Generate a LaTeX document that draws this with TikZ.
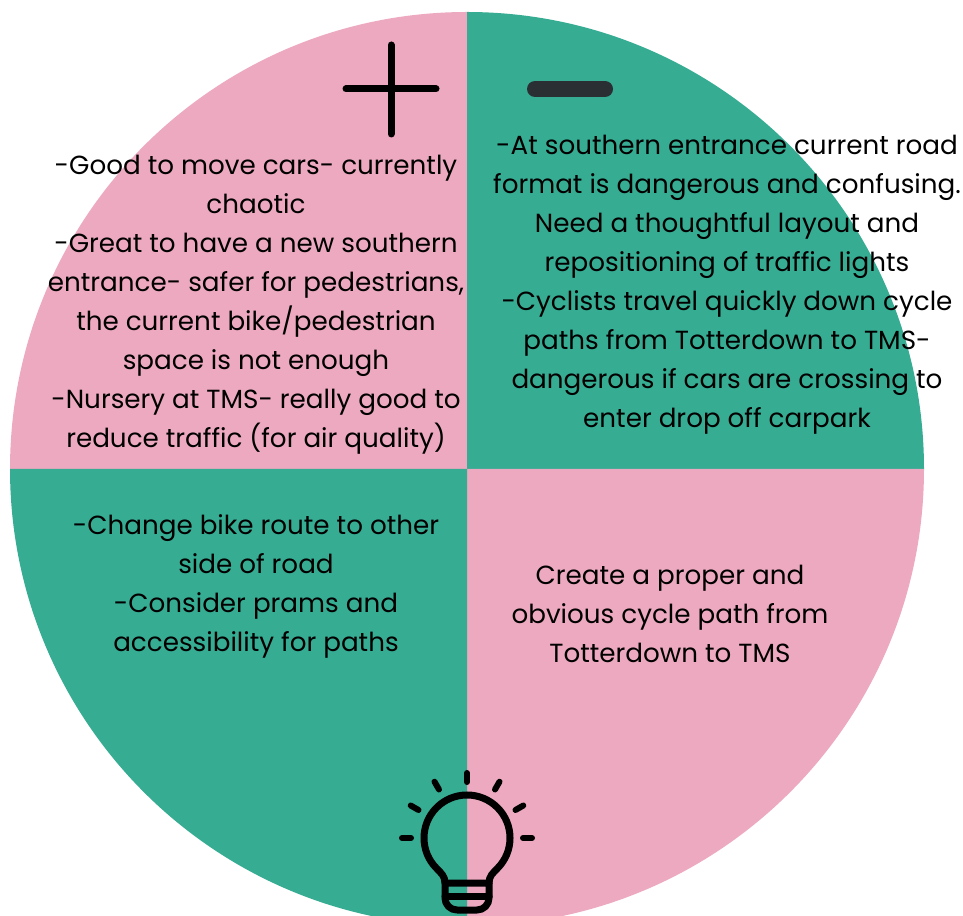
\documentclass[tikz,border=0pt]{standalone}
\usepackage{fontspec}
\setmainfont{Poppins}
\usetikzlibrary{positioning}
\definecolor{notepink}{HTML}{EDA9C0}
\definecolor{notegreen}{HTML}{36AC93}
\definecolor{signgrey}{HTML}{2A2F33}
\tikzstyle{note}=[align=center,inner sep=0pt,text=black,font=\fontsize{26.2}{39}\selectfont]
\tikzstyle{quad}=[draw=none]
\tikzstyle{sign}=[draw,line width=7pt,line cap=round,black]
\tikzstyle{bulb}=[draw,line width=7pt,line cap=round,line join=round,black]

\begin{document}
\begin{tikzpicture}[x=1pt,y=1pt]
	\clip (0,0) rectangle (963,915);

	% quarters of the disc
	\coordinate (mid) at (467,446);
	\fill[quad,notepink] (mid) -- (10,446) arc[start angle=180,end angle=90,radius=457pt] -- cycle;
	\fill[quad,notegreen] (mid) -- (467,903) arc[start angle=90,end angle=0,radius=457pt] -- cycle;
	\fill[quad,notepink] (mid) -- (924,446) arc[start angle=0,end angle=-90,radius=457pt] -- cycle;
	\fill[quad,notegreen] (mid) -- (467,-11) arc[start angle=270,end angle=180,radius=457pt] -- cycle;

	% plus and minus
	\draw[sign] (391,870) -- (391,781);
	\draw[sign] (346,826) -- (436,826);
	\draw[signgrey,line width=16pt,line cap=round] (535,826) -- (605,826);

	\node[note] (pos) at (256,610) {-Good to move cars- currently\\chaotic\\-Great to have a new southern\\entrance- safer for pedestrians,\\the current bike/pedestrian\\space is not enough\\-Nursery at TMS- really good to\\reduce traffic (for air quality)};
	\node[note] (neg) at (727,630.5) {-At southern entrance current road\\format is dangerous and confusing.\\Need a thoughtful layout and\\repositioning of traffic lights\\-Cyclists travel quickly down cycle\\paths from Totterdown to TMS-\\dangerous if cars are crossing to\\enter drop off carpark};
	\node[note] (idea) at (256,329) {-Change bike route to other\\side of road\\-Consider prams and\\accessibility for paths};
	\node[note] (path) at (670,301) {Create a proper and\\obvious cycle path from\\Totterdown to TMS};

	% light bulb
	\begin{scope}[shift={(467,77)}]
		\draw[bulb] (-22,-45) .. controls (-22,-38) and (-26,-35) .. (-30.4,-30.4)
			arc[start angle=225,end angle=-45,radius=43pt]
			.. controls (26,-35) and (22,-38) .. (22,-45);
		\draw[bulb] (-22,-45) -- (-22,-60) arc[start angle=180,end angle=270,radius=12pt]
			-- (10,-72) arc[start angle=270,end angle=360,radius=12pt] -- (22,-45) -- cycle;
		\draw[bulb] (-22,-58) -- (22,-58);
		\foreach \ang in {0,30,60,90,120,150,180} {
			\draw[bulb,line width=6pt] (\ang:56) -- (\ang:65);
		}
	\end{scope}
\end{tikzpicture}
\end{document}
